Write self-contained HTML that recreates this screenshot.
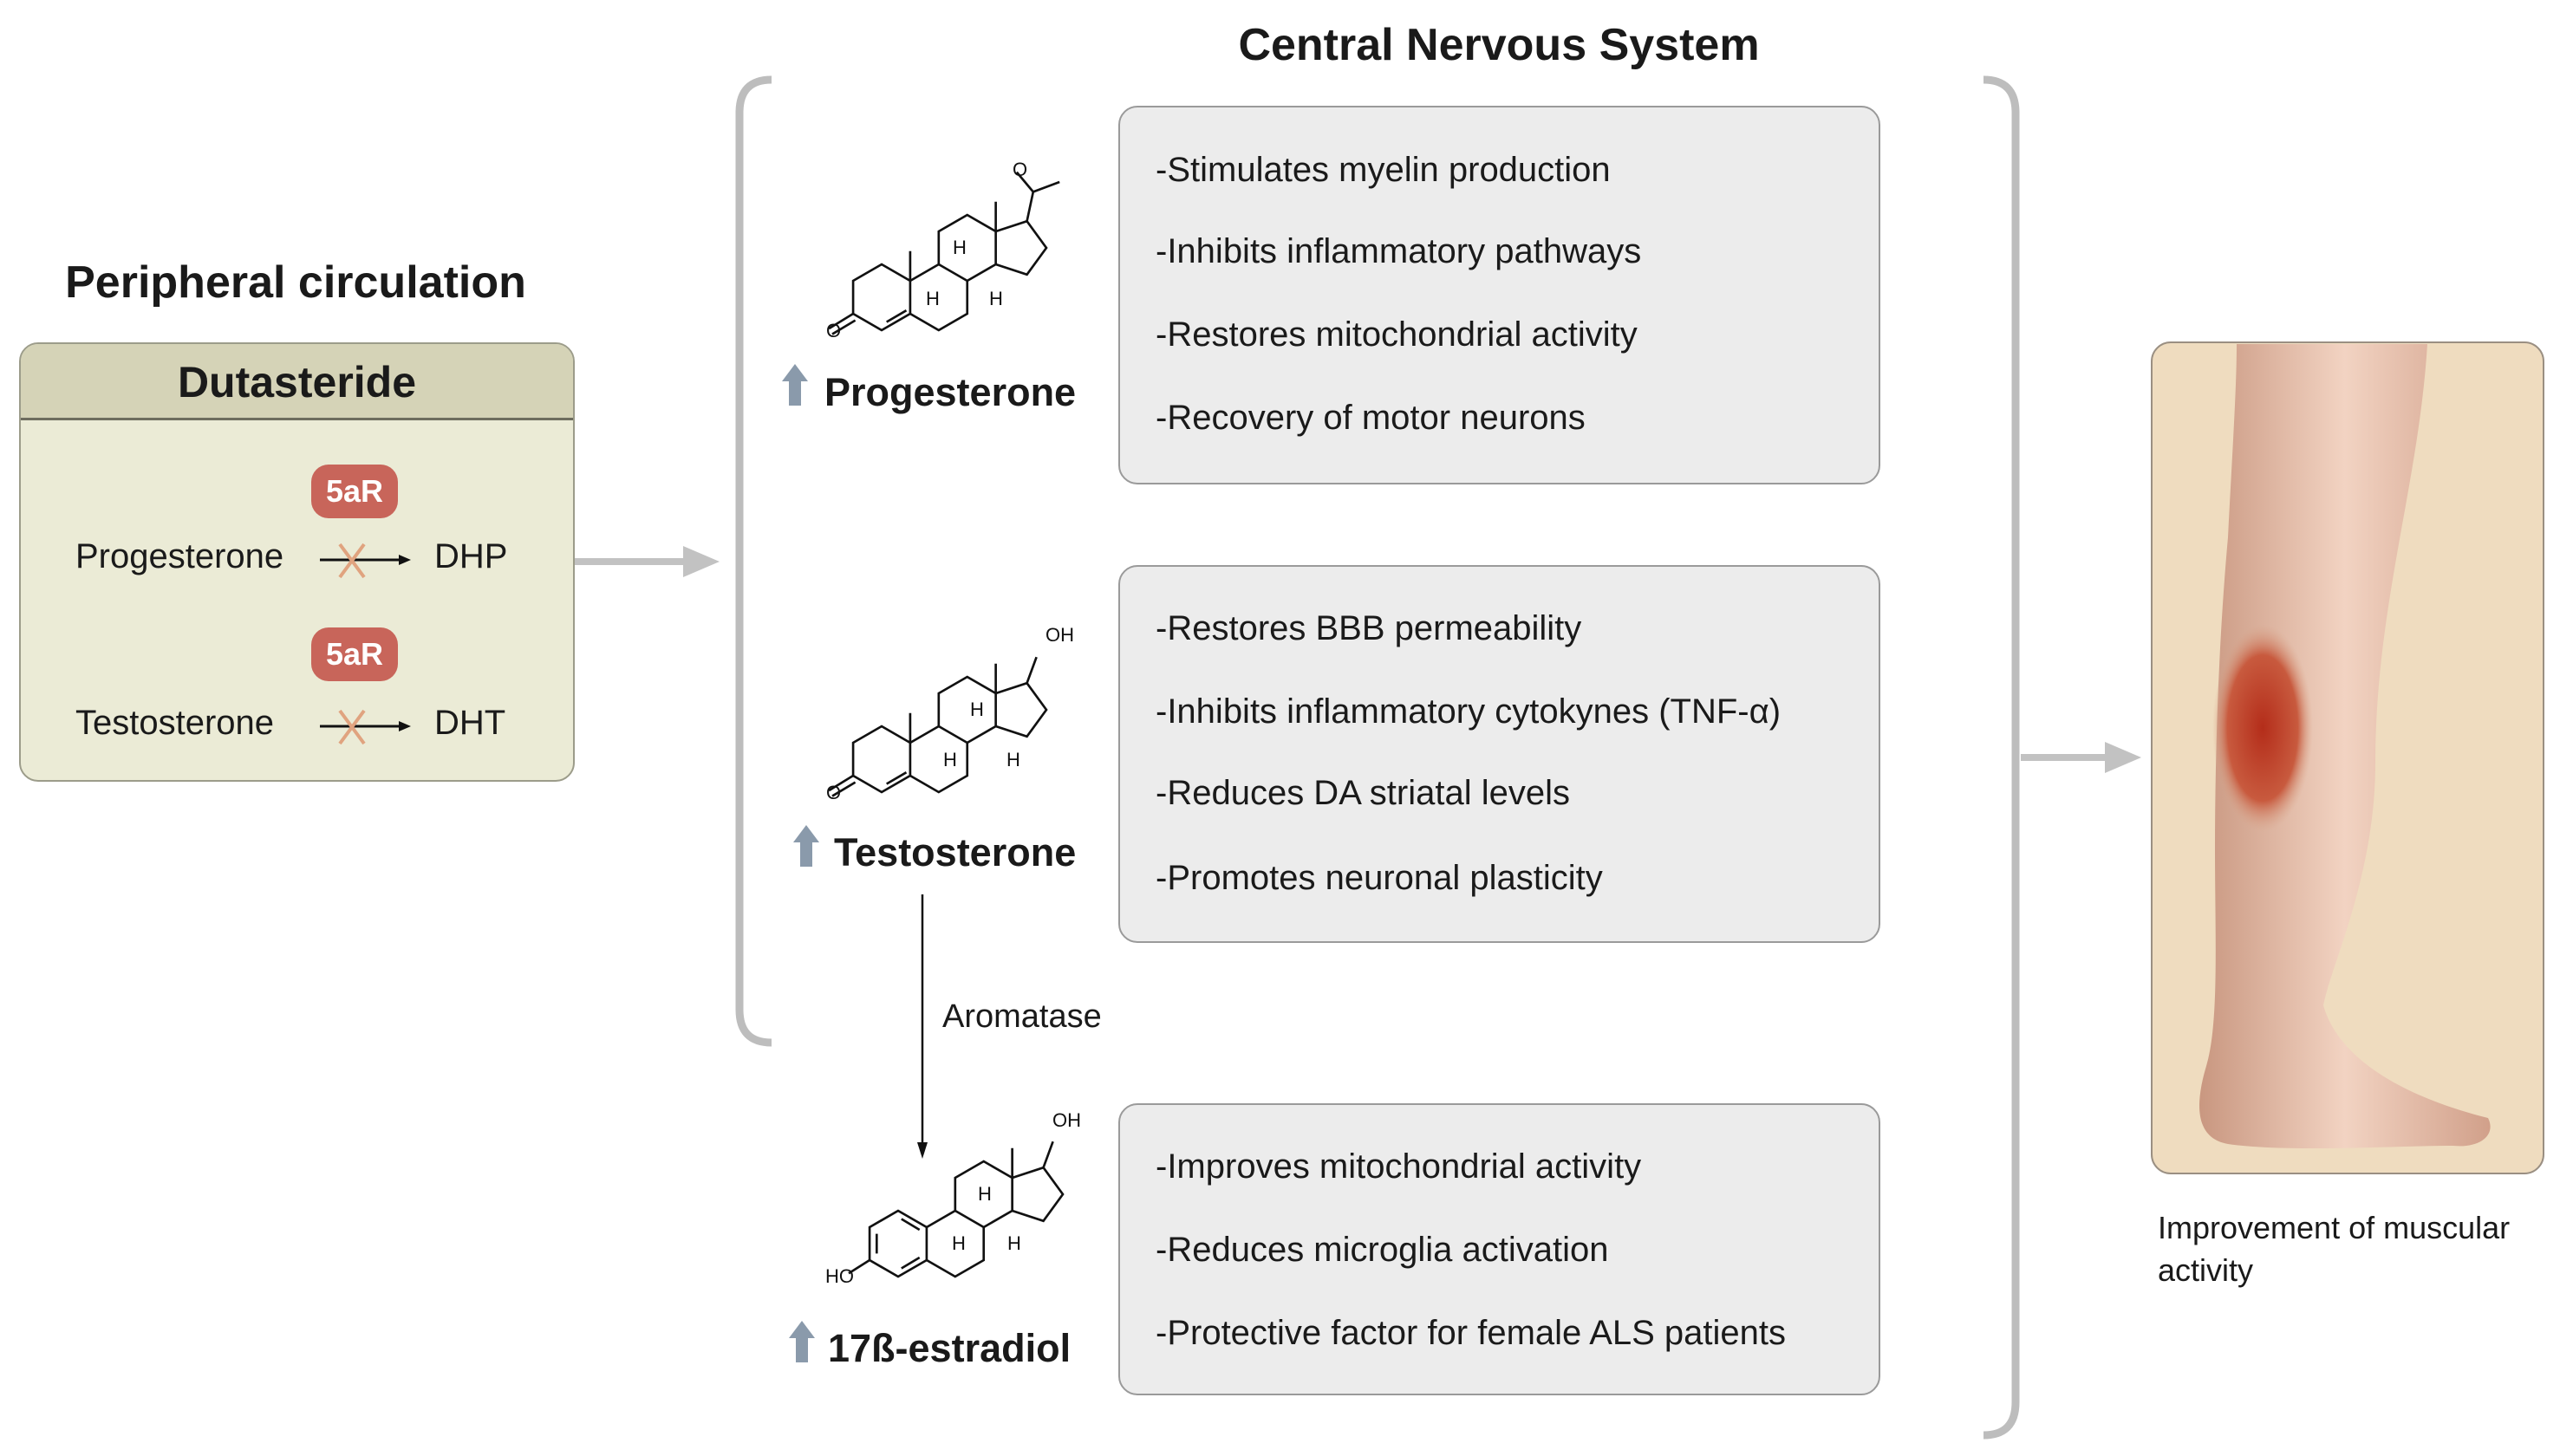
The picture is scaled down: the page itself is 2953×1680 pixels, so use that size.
<!DOCTYPE html>
<html><head><meta charset="utf-8"><style>
body{margin:0;width:2953px;height:1680px;background:#fff;position:relative;overflow:hidden;font-family:"Liberation Sans",sans-serif;color:#1a1a1a}
.a{position:absolute;white-space:nowrap}
.box{position:absolute;background:#ececec;border:2px solid #9a9a9a;border-radius:22px;box-sizing:border-box}
.t{position:absolute;left:1333px;font-size:40px;line-height:40px;transform:translateY(-50%)}
.badge{position:absolute;width:100px;height:62px;background:#c8655a;border-radius:20px;color:#fff;font-weight:bold;font-size:36px;line-height:62px;text-align:center}
</style></head><body>
<div class="a" style="left:0;width:3458px;top:22px;font-size:52px;font-weight:bold;text-align:center">Central Nervous System</div>
<div class="a" style="left:0;width:682px;top:296px;font-size:52px;font-weight:bold;text-align:center">Peripheral circulation</div>

<div style="position:absolute;left:22px;top:395px;width:641px;height:507px;background:#ebebd6;border:2px solid #9c9c8a;border-radius:22px;box-sizing:border-box;overflow:hidden">
 <div style="height:85px;background:#d5d3b7;border-bottom:3px solid #6e6d5e;text-align:center;font-size:50px;font-weight:bold;line-height:88px">Dutasteride</div>
</div>
<div class="badge" style="left:359px;top:536px">5aR</div>
<div class="badge" style="left:359px;top:724px">5aR</div>
<div class="a" style="left:87px;top:620px;font-size:40px">Progesterone</div>
<div class="a" style="left:501px;top:620px;font-size:40px">DHP</div>
<div class="a" style="left:87px;top:812px;font-size:40px">Testosterone</div>
<div class="a" style="left:501px;top:812px;font-size:40px">DHT</div>

<svg width="2953" height="1680" style="position:absolute;left:0;top:0" xmlns="http://www.w3.org/2000/svg">
 <defs>
  <marker id="ah" markerWidth="8" markerHeight="8" refX="7" refY="4" orient="auto" markerUnits="userSpaceOnUse"><path d="M0,0 L8,4 L0,8z" fill="#111"/></marker>
  <radialGradient id="mus" cx="0.5" cy="0.5" r="0.5"><stop offset="0" stop-color="#b42d1a"/><stop offset="0.7" stop-color="#c85a3e"/><stop offset="1" stop-color="#d9a58a" stop-opacity="0"/></radialGradient>
  <linearGradient id="skin" x1="0" x2="1"><stop offset="0" stop-color="#c99780"/><stop offset="0.5" stop-color="#f2d3c2"/><stop offset="1" stop-color="#d1a08a"/></linearGradient>
 </defs>
 <!-- small reaction arrows -->
 <g stroke="#111" stroke-width="3">
  <line x1="369" y1="646" x2="460" y2="646"/><line x1="369" y1="838" x2="460" y2="838"/>
 </g>
 <path d="M460,640 L474,646 L460,652z M460,832 L474,838 L460,844z" fill="#111"/>
 <g stroke="#e0a37f" stroke-width="4">
  <line x1="392" y1="628" x2="420" y2="666"/><line x1="420" y1="628" x2="392" y2="666"/>
  <line x1="392" y1="820" x2="420" y2="858"/><line x1="420" y1="820" x2="392" y2="858"/>
 </g>
 <!-- gray arrows -->
 <line x1="663" y1="648" x2="790" y2="648" stroke="#c2c2c2" stroke-width="8"/>
 <path d="M788,630 L830,648 L788,666z" fill="#c2c2c2"/>
 <line x1="2331" y1="874" x2="2430" y2="874" stroke="#c2c2c2" stroke-width="8"/>
 <path d="M2428,856 L2470,874 L2428,892z" fill="#c2c2c2"/>
 <!-- brackets -->
 <path d="M890,92 Q853,92 853,130 L853,1165 Q853,1203 890,1203" fill="none" stroke="#bdbdbd" stroke-width="9"/>
 <path d="M2288,92 Q2325,92 2325,130 L2325,1618 Q2325,1656 2288,1656" fill="none" stroke="#bdbdbd" stroke-width="9"/>
 <!-- aromatase arrow -->
 <line x1="1064" y1="1032" x2="1064" y2="1320" stroke="#111" stroke-width="2.5"/>
 <path d="M1058,1318 L1064,1337 L1070,1318z" fill="#111"/>
 <!-- up arrows -->
 <g fill="#8a9aab">
  <path d="M910,468 L924,468 L924,440 L932,440 L917,420 L902,440 L910,440z"/>
  <path d="M923,1000 L937,1000 L937,972 L945,972 L930,952 L915,972 L923,972z"/>
  <path d="M918,1572 L932,1572 L932,1544 L940,1544 L925,1524 L910,1544 L918,1544z"/>
 </g>
 <!-- molecules -->
 <g id="ster" fill="none" stroke="#111" stroke-width="2.6">
 </g>
 <g transform="translate(1017,343) scale(38)" fill="none" stroke="#111" stroke-width="0.07">
  <path d="M0,-1 L0.866,-0.5 L0.866,0.5 L0,1 L-0.866,0.5 L-0.866,-0.5 Z"/>
  <path d="M0.866,-0.5 L1.732,-1 L2.598,-0.5 L2.598,0.5 L1.732,1 L0.866,0.5"/>
  <path d="M1.732,-1 L1.732,-2 L2.598,-2.5 L3.464,-2 L3.464,-1 L2.598,-0.5"/>
  <path d="M3.464,-2 L4.41,-2.31 L5.0,-1.5 L4.41,-0.69 L3.464,-1"/>
  <path d="M0.15,0.75 L0.75,0.4"/><path d="M-0.866,0.5 L-1.6,0.95"/><path d="M-0.8,0.7 L-1.5,1.12"/>
  <path d="M0.866,-0.5 L0.866,-1.4 M3.464,-2 L3.464,-2.9 M4.41,-2.31 L4.6,-3.2 L5.4,-3.5 M4.6,-3.2 L4.1,-3.8"/>
 </g>
 <g transform="translate(1017,876) scale(38)" fill="none" stroke="#111" stroke-width="0.07">
  <path d="M0,-1 L0.866,-0.5 L0.866,0.5 L0,1 L-0.866,0.5 L-0.866,-0.5 Z"/>
  <path d="M0.866,-0.5 L1.732,-1 L2.598,-0.5 L2.598,0.5 L1.732,1 L0.866,0.5"/>
  <path d="M1.732,-1 L1.732,-2 L2.598,-2.5 L3.464,-2 L3.464,-1 L2.598,-0.5"/>
  <path d="M3.464,-2 L4.41,-2.31 L5.0,-1.5 L4.41,-0.69 L3.464,-1"/>
  <path d="M0.15,0.75 L0.75,0.4"/><path d="M-0.866,0.5 L-1.6,0.95"/><path d="M-0.8,0.7 L-1.5,1.12"/>
  <path d="M0.866,-0.5 L0.866,-1.4 M3.464,-2 L3.464,-2.9 M4.41,-2.31 L4.7,-3.1"/>
 </g>
 <g transform="translate(1036,1435) scale(38)" fill="none" stroke="#111" stroke-width="0.07">
  <path d="M0,-1 L0.866,-0.5 L0.866,0.5 L0,1 L-0.866,0.5 L-0.866,-0.5 Z"/>
  <path d="M0.866,-0.5 L1.732,-1 L2.598,-0.5 L2.598,0.5 L1.732,1 L0.866,0.5"/>
  <path d="M1.732,-1 L1.732,-2 L2.598,-2.5 L3.464,-2 L3.464,-1 L2.598,-0.5"/>
  <path d="M3.464,-2 L4.41,-2.31 L5.0,-1.5 L4.41,-0.69 L3.464,-1"/>
  <path d="M-0.65,-0.3 L-0.65,0.3 M0.1,-0.75 L0.65,-0.42 M0.1,0.75 L0.65,0.42"/>
  <path d="M-0.866,0.5 L-1.5,0.9 M3.464,-2 L3.464,-2.9 M4.41,-2.31 L4.7,-3.1"/>
 </g>
 <g font-family="Liberation Sans,sans-serif" font-size="22" fill="#111">
  <text x="953" y="389">O</text><text x="1168" y="203">O</text>
  <text x="1099" y="293">H</text><text x="1068" y="352">H</text><text x="1141" y="352">H</text>
  <text x="953" y="922">O</text><text x="1206" y="740">OH</text>
  <text x="1119" y="826">H</text><text x="1088" y="884">H</text><text x="1161" y="884">H</text>
  <text x="952" y="1480">HO</text><text x="1214" y="1300">OH</text>
  <text x="1128" y="1385">H</text><text x="1098" y="1442">H</text><text x="1162" y="1442">H</text>
 </g>
 <!-- leg panel -->
 <rect x="2482" y="395" width="452" height="959" rx="22" fill="#efdcbf" stroke="#9a8f82" stroke-width="2"/>
 <path d="M2580,397 L2800,397 C2790,560 2740,700 2740,880 C2740,1010 2690,1110 2680,1160 C2700,1230 2790,1270 2870,1290 C2880,1310 2860,1325 2830,1322 C2760,1322 2640,1330 2570,1320 C2535,1314 2530,1280 2545,1230 C2560,1180 2555,1080 2555,980 C2555,860 2560,730 2570,620 C2575,520 2580,450 2580,397 Z" fill="url(#skin)"/>
 <ellipse cx="2610" cy="840" rx="58" ry="120" fill="url(#mus)"/>
</svg>

<div class="a" style="left:1087px;top:1152px;font-size:38px">Aromatase</div>
<div class="a" style="left:951px;top:427px;font-size:45px;font-weight:bold">Progesterone</div>
<div class="a" style="left:962px;top:958px;font-size:45px;font-weight:bold">Testosterone</div>
<div class="a" style="left:955px;top:1530px;font-size:45px;font-weight:bold">17ß-estradiol</div>

<div class="box" style="left:1290px;top:122px;width:879px;height:437px"></div>
<div class="box" style="left:1290px;top:652px;width:879px;height:436px"></div>
<div class="box" style="left:1290px;top:1273px;width:879px;height:337px"></div>
<div class="t" style="top:196px">-Stimulates myelin production</div>
<div class="t" style="top:290px">-Inhibits inflammatory pathways</div>
<div class="t" style="top:386px">-Restores mitochondrial activity</div>
<div class="t" style="top:482px">-Recovery of motor neurons</div>
<div class="t" style="top:725px">-Restores BBB permeability</div>
<div class="t" style="top:821px">-Inhibits inflammatory cytokynes (TNF-α)</div>
<div class="t" style="top:915px">-Reduces DA striatal levels</div>
<div class="t" style="top:1013px">-Promotes neuronal plasticity</div>
<div class="t" style="top:1346px">-Improves mitochondrial activity</div>
<div class="t" style="top:1442px">-Reduces microglia activation</div>
<div class="t" style="top:1538px">-Protective factor for female ALS patients</div>

<div class="a" style="left:2489px;top:1392px;font-size:36px;line-height:49px">Improvement of muscular<br>activity</div>
</body></html>
